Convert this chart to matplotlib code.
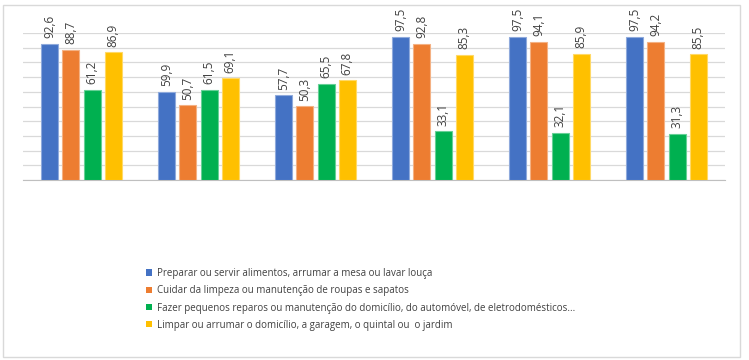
import numpy as np
import matplotlib.pyplot as plt
from matplotlib.patches import Patch, Rectangle

plt.rcParams["font.family"] = ["Open Sans", "DejaVu Sans"]

series_labels = [
    "Preparar ou servir alimentos, arrumar a mesa ou lavar louça",
    "Cuidar da limpeza ou manutenção de roupas e sapatos",
    "Fazer pequenos reparos ou manutenção do domicílio, do automóvel, de eletrodomésticos...",
    "Limpar ou arrumar o domicílio, a garagem, o quintal ou  o jardim",
]
colors = ["#4472C4", "#ED7D31", "#00B050", "#FFC000"]
edge_colors = ["#8FAADC", "#F4B183", "#66D096", "#FFD966"]

preparar = [92.6, 59.9, 57.7, 97.5, 97.5, 97.5]
cuidar = [88.7, 50.7, 50.3, 92.8, 94.1, 94.2]
reparos = [61.2, 61.5, 65.5, 33.1, 32.1, 31.3]
limpar = [86.9, 69.1, 67.8, 85.3, 85.9, 85.5]
series = [preparar, cuidar, reparos, limpar]

n_groups = len(preparar)
x = np.arange(n_groups)
width = 0.145
pitch = 0.18

fig = plt.figure(figsize=(7.49, 3.6), dpi=100)
ax = fig.add_axes([23 / 749, 0.5, (725 - 23) / 749, (180 - 33) / 360])

for i, vals in enumerate(series):
    pos = x + (i - 1.5) * pitch
    ax.bar(pos, vals, width=width, color=colors[i], edgecolor=edge_colors[i],
           linewidth=0.8, zorder=3)
    for xp, v in zip(pos, vals):
        ax.annotate(f"{v:.1f}".replace(".", ","), (xp, v), xytext=(0, 4),
                    textcoords="offset points", rotation=90, ha="center",
                    va="bottom", fontsize=8.5, color="#404040",
                    annotation_clip=False)

ax.set_xlim(-0.5, n_groups - 0.5)
ax.set_ylim(0, 100)
ax.set_yticks(np.arange(0, 101, 10))
ax.yaxis.grid(True, color="#D9D9D9", linewidth=0.9, zorder=0)
ax.set_axisbelow(True)
ax.set_xticks([])
ax.tick_params(left=False, labelleft=False)
for s in ["top", "right", "left"]:
    ax.spines[s].set_visible(False)
ax.spines["bottom"].set_color("#BFBFBF")

handles = [Patch(facecolor=c) for c in colors]
fig.legend(handles, series_labels, loc="upper left",
           bbox_to_anchor=(141 / 749, 1 - 263 / 360), frameon=False,
           fontsize=7, handlelength=0.6, handleheight=0.6,
           handletextpad=0.5, labelspacing=0.65, borderpad=0,
           labelcolor="#404040")

fig.patches.append(Rectangle((3 / 749, 3 / 360), 737 / 749, 352 / 360,
                             transform=fig.transFigure, fill=False,
                             edgecolor="#D9D9D9", linewidth=1))

fig.savefig("out.png", dpi=100)
